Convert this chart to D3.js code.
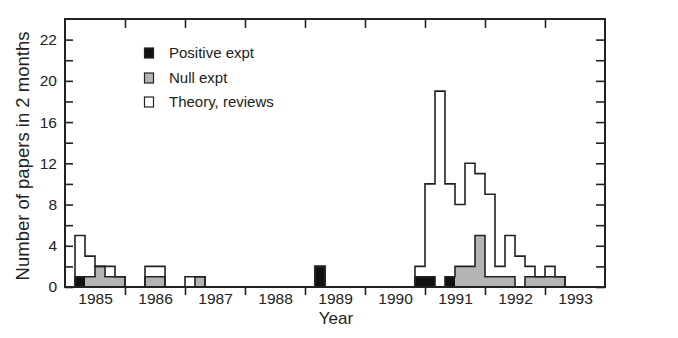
<!DOCTYPE html>
<html>
<head>
<meta charset="utf-8">
<script src="https://cdn.jsdelivr.net/npm/d3@7"></script>
<style>
  body { margin: 0; background: #fff; }
  text { font-family: "Liberation Sans", Arial, sans-serif; fill: #222; }
</style>
</head>
<body>
<div id="chart"></div>
<script>
// two-month bins, 6 per year, 1985..1993
const years = [1985, 1986, 1987, 1988, 1989, 1990, 1991, 1992, 1993];
const binsPerYear = 6;

const positive = [
  0, 1, 0, 0, 0, 0,   // 1985
  0, 0, 0, 0, 0, 0,   // 1986
  0, 0, 0, 0, 0, 0,   // 1987
  0, 0, 0, 0, 0, 0,   // 1988
  0, 2, 0, 0, 0, 0,   // 1989
  0, 0, 0, 0, 0, 1,   // 1990
  1, 0, 1, 0, 0, 0,   // 1991
  0, 0, 0, 0, 0, 0,   // 1992
  0, 0, 0, 0, 0, 0    // 1993
];
const nullExpt = [
  0, 0, 1, 2, 1, 1,
  0, 0, 1, 1, 0, 0,
  0, 1, 0, 0, 0, 0,
  0, 0, 0, 0, 0, 0,
  0, 0, 0, 0, 0, 0,
  0, 0, 0, 0, 0, 0,
  0, 0, 0, 2, 2, 5,
  1, 1, 1, 0, 1, 1,
  1, 1, 0, 0, 0, 0
];
const theory = [
  0, 4, 2, 0, 1, 0,
  0, 0, 1, 1, 0, 0,
  1, 0, 0, 0, 0, 0,
  0, 0, 0, 0, 0, 0,
  0, 0, 0, 0, 0, 0,
  0, 0, 0, 0, 0, 1,
  9, 19, 9, 6, 10, 6,
  8, 1, 4, 3, 1, 0,
  1, 0, 0, 0, 0, 0
];

const yTickValues = [0, 2, 4, 6, 8, 10, 12, 14, 16, 18, 20, 22, 24];
const yTickLabels = { 0: "0", 4: "4", 8: "8", 12: "12", 16: "16", 20: "20", 24: "22" };

const legendItems = [
  { key: "positive", label: "Positive expt" },
  { key: "null", label: "Null expt" },
  { key: "theory", label: "Theory, reviews" }
];
const colors = { positive: "#111", null: "#b4b4b4", theory: "#fff" };

const width = 678, height = 338;
const margin = { top: 19, right: 73, bottom: 51, left: 65 };

const svg = d3.select("#chart").append("svg")
  .attr("width", width).attr("height", height);

const x = d3.scaleLinear()
  .domain([years[0], years[years.length - 1] + 1])
  .range([margin.left, width - margin.right]);
const y = d3.scaleLinear()
  .domain([0, 26])
  .range([height - margin.bottom, margin.top]);

const table = positive.map((p, i) => ({
  t: years[0] + i / binsPerYear,
  positive: p, null: nullExpt[i], theory: theory[i]
}));
const series = d3.stack().keys(["positive", "null", "theory"])(table);
const binW = 1 / binsPerYear;

// fills
svg.append("g").selectAll("g").data(series).join("g")
  .attr("fill", d => colors[d.key])
  .selectAll("rect").data(d => d).join("rect")
  .attr("x", d => x(d.data.t))
  .attr("width", d => x(d.data.t + binW) - x(d.data.t))
  .attr("y", d => y(d[1]))
  .attr("height", d => y(d[0]) - y(d[1]));

// step outlines of the cumulative levels
const step = d3.line().x(d => x(d.t)).y(d => y(d.v)).curve(d3.curveStepAfter);
[series[1], series[2]].forEach(s => {
  const pts = s.map(d => ({ t: d.data.t, v: d[1] }));
  pts.push({ t: years[years.length - 1] + 1, v: pts[pts.length - 1].v });
  svg.append("path")
    .attr("d", step(pts))
    .attr("fill", "none")
    .attr("stroke", "#222")
    .attr("stroke-width", 1.6);
});

// left axis: inward ticks
const yAxisL = svg.append("g")
  .attr("transform", `translate(${margin.left},0)`)
  .call(d3.axisLeft(y).tickValues(yTickValues).tickSizeInner(-8).tickSizeOuter(0)
    .tickPadding(8).tickFormat(d => yTickLabels[d] || ""));
// right axis: inward ticks
const yAxisR = svg.append("g")
  .attr("transform", `translate(${width - margin.right},0)`)
  .call(d3.axisRight(y).tickValues(yTickValues).tickSizeInner(-9).tickSizeOuter(0)
    .tickFormat(""));
// bottom year boundaries, outward
const xAxisB = svg.append("g")
  .attr("transform", `translate(0,${height - margin.bottom})`)
  .call(d3.axisBottom(x).tickValues(years.slice(1)).tickSizeInner(8).tickSizeOuter(0)
    .tickFormat(""));
// top year boundaries, inward
const xAxisT = svg.append("g")
  .attr("transform", `translate(0,${margin.top})`)
  .call(d3.axisTop(x).tickValues(years.slice(1)).tickSizeInner(-9).tickSizeOuter(0)
    .tickFormat(""));
// year labels in the middle of each year
const xLabels = svg.append("g")
  .attr("transform", `translate(0,${height - margin.bottom})`)
  .call(d3.axisBottom(x).tickValues(years.map(d => d + 0.5)).tickSize(0)
    .tickPadding(6).tickFormat(d => String(Math.floor(d))));

[yAxisL, yAxisR, xAxisB, xAxisT, xLabels].forEach(g => {
  g.select(".domain").remove();
  g.selectAll("line").attr("stroke", "#222").attr("stroke-width", 1.6);
  g.selectAll("text").attr("font-size", 15.5).attr("fill", "#222")
    .attr("font-family", "'Liberation Sans', Arial, sans-serif");
});

// frame
svg.append("rect")
  .attr("x", margin.left).attr("y", margin.top)
  .attr("width", width - margin.left - margin.right)
  .attr("height", height - margin.top - margin.bottom)
  .attr("fill", "none").attr("stroke", "#222").attr("stroke-width", 2);

// axis titles
svg.append("text")
  .attr("x", 336).attr("y", 324)
  .attr("text-anchor", "middle").attr("font-size", 17)
  .text("Year");
svg.append("text")
  .attr("transform", "translate(29,156) rotate(-90)")
  .attr("text-anchor", "middle").attr("font-size", 18.5)
  .text("Number of papers in 2 months");

// legend
const legendY = [53, 78, 102];
const lg = svg.append("g");
legendItems.forEach((d, i) => {
  lg.append("rect")
    .attr("x", 144.5).attr("y", legendY[i] - 5)
    .attr("width", 9).attr("height", 10)
    .attr("fill", colors[d.key]).attr("stroke", "#222").attr("stroke-width", 1.2);
  lg.append("text")
    .attr("x", 169).attr("y", legendY[i] + 5)
    .attr("font-size", 15)
    .text(d.label);
});
</script>
</body>
</html>
